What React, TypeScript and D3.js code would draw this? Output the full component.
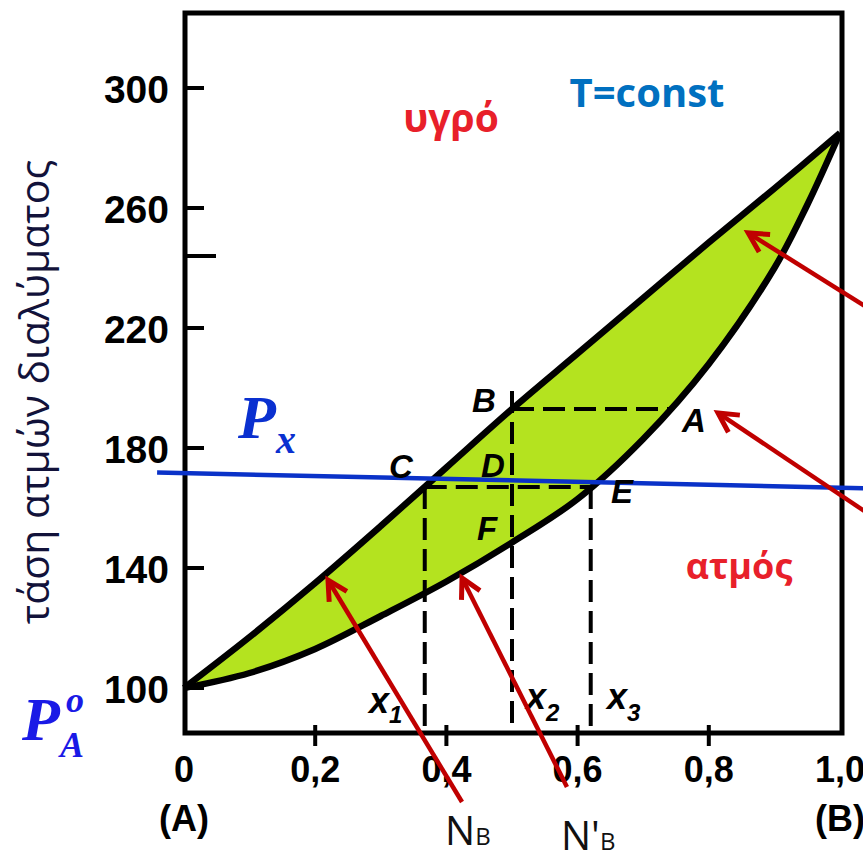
import React from 'react';
import * as d3 from 'd3';

const W = 863;
const H = 854;

// axis ticks
const xTicks = [0, 0.2, 0.4, 0.6, 0.8, 1.0];
const xTickLabels = ['0', '0,2', '0,4', '0,6', '0,8', '1,0'];
const yTicks = [100, 140, 180, 220, 260, 300];
const strayTick = 244;

// liquid (upper) and vapour (lower) curves
const liquidX = [0, 0.1, 0.2, 0.3, 0.4, 0.5, 0.6, 0.7, 0.8, 0.9, 1.0];
const liquidP = [100, 117, 135, 154, 173.5, 193, 211.5, 230, 248.5, 266.5, 285];
const vaporX = [0, 0.1, 0.2, 0.3, 0.4, 0.5, 0.6, 0.7, 0.8, 0.9, 0.95, 1.0];
const vaporP = [100, 105, 113, 124, 135.5, 148.5, 163, 183, 208, 240, 261, 285];

// construction points (C, B/D/F, E, A)
const xC = 0.367, xB = 0.5, xE = 0.62, xA = 0.74;
const pBA = 193, pCE = 167;
const x2Top = 199;

// P_x line
const pxLineX = [-0.041, 1.061];
const pxLineP = [171.8, 166.5];

// red arrows: tip -> tail
const arrowTips: [number, number][] = [[0.86, 251.7], [0.814, 191.7], [0.2195, 136], [0.4238, 136.7]];
const arrowTails: [number, number][] = [[1.06, 224.3], [1.061, 155.5], [0.4238, 62], [0.5838, 67]];

const GREEN = '#b4e31f';
const RED = '#c00000';
const BLUE_LINE = '#0a32c8';

export default function App() {
  const x = d3.scaleLinear().domain([0, 1]).range([184, 840]);
  const y = d3.scaleLinear().domain([100, 300]).range([688, 88]);

  const line = d3.line<[number, number]>()
    .x(d => x(d[0]))
    .y(d => y(d[1]))
    .curve(d3.curveCatmullRom);

  const liq: [number, number][] = liquidX.map((v, i) => [v, liquidP[i]]);
  const vap: [number, number][] = vaporX.map((v, i) => [v, vaporP[i]]);
  const liqPath = line(liq) || '';
  const vapPath = line(vap) || '';
  const vapRev = line([...vap].reverse()) || '';
  const fillPath = liqPath + vapRev.replace(/^M/, 'L') + 'Z';

  const frameL = x(0) + 1, frameR = x(1) + 2;
  const frameT = y(325), frameB = y(85);

  const sans = "'Liberation Sans', Arial, sans-serif";
  const greek = "'Open Sans', 'Noto Sans', sans-serif";
  const serif = "'Liberation Serif', 'Times New Roman', serif";

  const arrowHead = (tip: [number, number], tail: [number, number]) => {
    const tx = x(tip[0]), ty = y(tip[1]);
    const ang = Math.atan2(y(tail[1]) - ty, x(tail[0]) - tx);
    const a = 28 * Math.PI / 180, len = 22;
    const p1 = [tx + len * Math.cos(ang + a), ty + len * Math.sin(ang + a)];
    const p2 = [tx + len * Math.cos(ang - a), ty + len * Math.sin(ang - a)];
    return `M${p1[0]},${p1[1]}L${tx},${ty}L${p2[0]},${p2[1]}`;
  };

  const dash = '22 9';

  return (
    <svg width={W} height={H} style={{ position: 'absolute', left: 0, top: 0, background: '#fff' }}>
      {/* two-phase region */}
      <path d={fillPath} fill={GREEN} stroke="none" />

      {/* dashed construction lines */}
      <g stroke="#000" strokeWidth={4} strokeDasharray={dash} fill="none">
        <line x1={x(xB)} x2={x(xA)} y1={y(pBA)} y2={y(pBA)} />
        <line x1={x(xC)} x2={x(xE)} y1={y(pCE)} y2={y(pCE)} />
        <line x1={x(xC)} x2={x(xC)} y1={y(pCE)} y2={frameB} />
        <line x1={x(xB)} x2={x(xB)} y1={y(x2Top)} y2={frameB} />
        <line x1={x(xE)} x2={x(xE)} y1={y(pCE)} y2={frameB} />
      </g>

      {/* curves */}
      <path d={liqPath} fill="none" stroke="#000" strokeWidth={6.5} strokeLinejoin="round" />
      <path d={vapPath} fill="none" stroke="#000" strokeWidth={6.5} strokeLinejoin="round" />

      {/* frame */}
      <rect x={frameL} y={frameT} width={frameR - frameL} height={frameB - frameT}
        fill="none" stroke="#000" strokeWidth={5} />

      {/* y ticks */}
      <g stroke="#000" strokeWidth={4}>
        {yTicks.map(t => (
          <line key={t} x1={frameL} x2={frameL + 19} y1={y(t)} y2={y(t)} />
        ))}
        <line x1={frameL} x2={frameL + 31} y1={y(strayTick)} y2={y(strayTick)} />
      </g>
      <g fontFamily={sans} fontWeight="bold" fontSize={39} textAnchor="end" fill="#000">
        {yTicks.map(t => (
          <text key={t} x={169} y={y(t) + 15}>{t}</text>
        ))}
      </g>

      {/* x ticks */}
      <g stroke="#000" strokeWidth={4}>
        {xTicks.slice(1, -1).map(t => (
          <line key={t} x1={x(t)} x2={x(t)} y1={frameB - 8} y2={frameB + 13} />
        ))}
      </g>
      <g fontFamily={sans} fontWeight="bold" fontSize={36} textAnchor="middle" fill="#000">
        {xTicks.map((t, i) => (
          <text key={t} x={x(t)} y={782}>{xTickLabels[i]}</text>
        ))}
        <text x={x(0)} y={831}>(A)</text>
        <text x={x(1)} y={831}>(B)</text>
      </g>

      {/* y axis title */}
      <text transform="translate(49,392) rotate(-90)" textAnchor="middle"
        fontFamily={greek} fontSize={41} fill="#12123a">τάση ατμών διαλύματος</text>

      {/* P_x line */}
      <line x1={x(pxLineX[0])} y1={y(pxLineP[0])} x2={x(pxLineX[1])} y2={y(pxLineP[1])}
        stroke={BLUE_LINE} strokeWidth={4.5} />

      {/* point labels */}
      <g fontFamily={sans} fontWeight="bold" fontStyle="italic" fontSize={33} fill="#000">
        <text x={472} y={412}>B</text>
        <text x={682} y={432}>A</text>
        <text x={389} y={478}>C</text>
        <text x={481} y={477}>D</text>
        <text x={611} y={503}>E</text>
        <text x={477} y={540}>F</text>
      </g>
      <g fontFamily={sans} fontWeight="bold" fontStyle="italic" fill="#000">
        <text x={369} y={713} fontSize={36}>x<tspan fontSize={24} dy={10}>1</tspan></text>
        <text x={526} y={709} fontSize={36}>x<tspan fontSize={24} dy={12}>2</tspan></text>
        <text x={607} y={709} fontSize={36}>x<tspan fontSize={24} dy={12}>3</tspan></text>
      </g>

      {/* region labels */}
      <text x={451} y={132} textAnchor="middle" fontFamily={greek} fontWeight="bold" fontSize={39} fill="#e8202a">υγρό</text>
      <text x={647} y={107} textAnchor="middle" fontFamily={greek} fontWeight="bold" fontSize={40} fill="#0070c0">T=const</text>
      <text x={739} y={579} textAnchor="middle" fontFamily={greek} fontWeight="bold" fontSize={36} fill="#e8202a">ατμός</text>

      {/* P_x and P_A^o */}
      <text x={238} y={438} fontFamily={serif} fontWeight="bold" fontStyle="italic" fontSize={62} fill="#0a30d0">
        P<tspan fontSize={40} dy={15}>x</tspan>
      </text>
      <text x={22} y={740} fontFamily={serif} fontWeight="bold" fontStyle="italic" fontSize={62} fill="#1a1ae6">P</text>
      <text x={66} y={712} fontFamily={serif} fontWeight="bold" fontStyle="italic" fontSize={36} fill="#1a1ae6">o</text>
      <text x={60} y={757} fontFamily={serif} fontWeight="bold" fontStyle="italic" fontSize={36} fill="#1a1ae6">A</text>

      {/* N_B labels */}
      <text x={445} y={845} fontFamily={greek} fontSize={40} fill="#111">N<tspan fontSize={24}>B</tspan></text>
      <text x={561} y={850} fontFamily={greek} fontSize={40} fill="#111">N'<tspan fontSize={24}>B</tspan></text>

      {/* red arrows */}
      <g stroke={RED} strokeWidth={4.5} fill="none">
        {arrowTips.map((tip, i) => (
          <g key={i}>
            <line x1={x(tip[0])} y1={y(tip[1])} x2={x(arrowTails[i][0])} y2={y(arrowTails[i][1])} />
            <path d={arrowHead(tip, arrowTails[i])} strokeWidth={5} />
          </g>
        ))}
      </g>
    </svg>
  );
}
